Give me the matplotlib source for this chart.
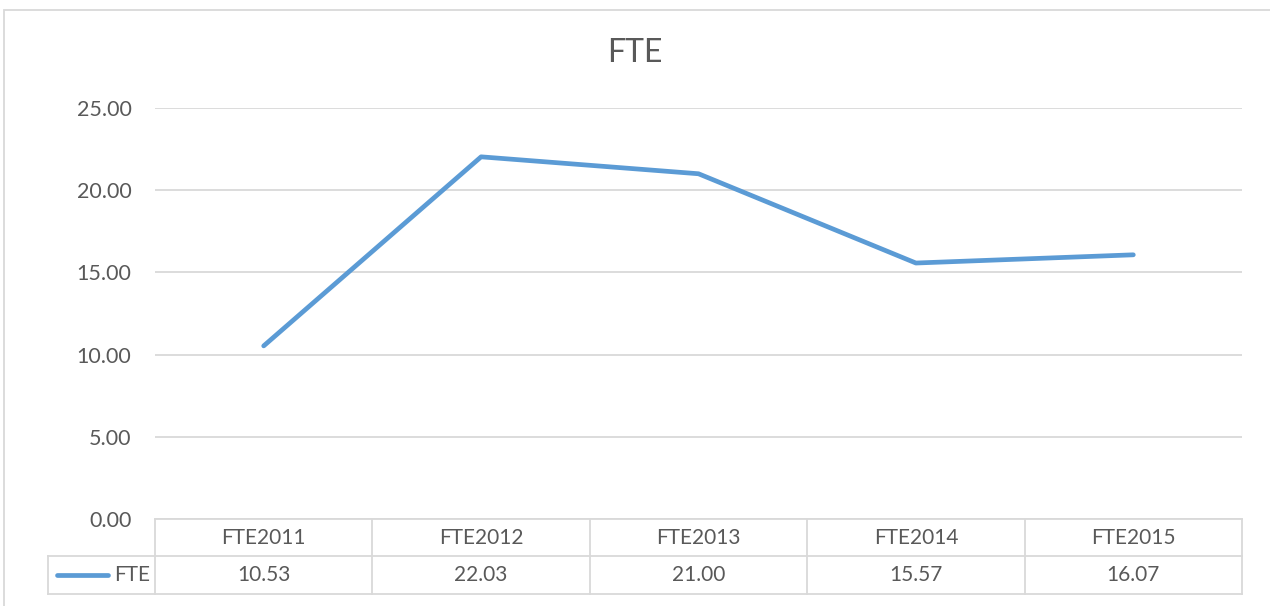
import matplotlib
matplotlib.use("Agg")
import matplotlib.pyplot as plt
from matplotlib.patches import Rectangle
from matplotlib.lines import Line2D

categories = ["FTE2011", "FTE2012", "FTE2013", "FTE2014", "FTE2015"]
fte_values = [10.53, 22.03, 21.00, 15.57, 16.07]
series_name = "FTE"
yticks = [0, 5, 10, 15, 20, 25]

W, H = 1270, 606
fig = plt.figure(figsize=(W / 100, H / 100), dpi=100)
plt.rcParams['font.family'] = ['Lato', 'DejaVu Sans']

TXT = "#595959"
GRID = "#D9D9D9"
LINEC = "#5B9BD5"
FS = 15

def fx(px):
    return px / W

def fy(py):
    return 1 - py / H

# outer chart border
fig.patches.append(Rectangle((fx(3.5), fy(700)), fx(1300), fy(9.5) - fy(700),
                             transform=fig.transFigure, fill=False,
                             edgecolor=GRID, linewidth=1.3, zorder=0))

left, right, top, bottom = 155, 1242, 108, 519
ax = fig.add_axes([fx(left), fy(bottom), fx(right) - fx(left), fy(top) - fy(bottom)])
x = list(range(len(categories)))
ax.plot(x, fte_values, color=LINEC, linewidth=3.4, solid_capstyle='round',
        solid_joinstyle='round', zorder=3)
ax.set_xlim(-0.5, len(categories) - 0.5)
ax.set_ylim(0, 25)
ax.set_yticks(yticks)
ax.set_yticklabels([f"{v:.2f}" for v in yticks], color=TXT, fontsize=FS + 0.5)
ax.tick_params(axis='y', length=0, pad=17)
ax.set_xticks([])
for s in ax.spines.values():
    s.set_visible(False)
ax.yaxis.grid(True, color=GRID, linewidth=1.3)
ax.set_axisbelow(True)

fig.text(0.5, fy(53), "FTE", ha='center', va='center', fontsize=23, color=TXT)

# data table
row1_bot, row2_bot = 556, 594
legend_left = 48
col_edges = [left + (right - left) * i / len(categories) for i in range(len(categories) + 1)]
lw = 1.3
def hline(y, x0, x1):
    fig.add_artist(Line2D([fx(x0), fx(x1)], [fy(y), fy(y)], transform=fig.transFigure,
                          color=GRID, linewidth=lw))
def vline(xp, y0, y1):
    fig.add_artist(Line2D([fx(xp), fx(xp)], [fy(y0), fy(y1)], transform=fig.transFigure,
                          color=GRID, linewidth=lw))

hline(bottom, left, right)
hline(row1_bot, legend_left, right)
hline(row2_bot, legend_left, right)
for xe in col_edges:
    vline(xe, bottom, row2_bot)
vline(legend_left, row1_bot, row2_bot)

for i, (c, v) in enumerate(zip(categories, fte_values)):
    cx = (col_edges[i] + col_edges[i + 1]) / 2
    fig.text(fx(cx), fy((bottom + row1_bot) / 2), c, ha='center', va='center',
             fontsize=FS, color=TXT)
    fig.text(fx(cx), fy((row1_bot + row2_bot) / 2), f"{v:.2f}", ha='center', va='center',
             fontsize=FS, color=TXT)

# legend key in table
ymid = fy((row1_bot + row2_bot) / 2)
fig.add_artist(Line2D([fx(57), fx(108)], [ymid, ymid], transform=fig.transFigure,
                      color=LINEC, linewidth=3.4, solid_capstyle='round'))
fig.text(fx(114), ymid, series_name, ha='left', va='center', fontsize=FS, color=TXT)

fig.savefig("out.png", dpi=100)
